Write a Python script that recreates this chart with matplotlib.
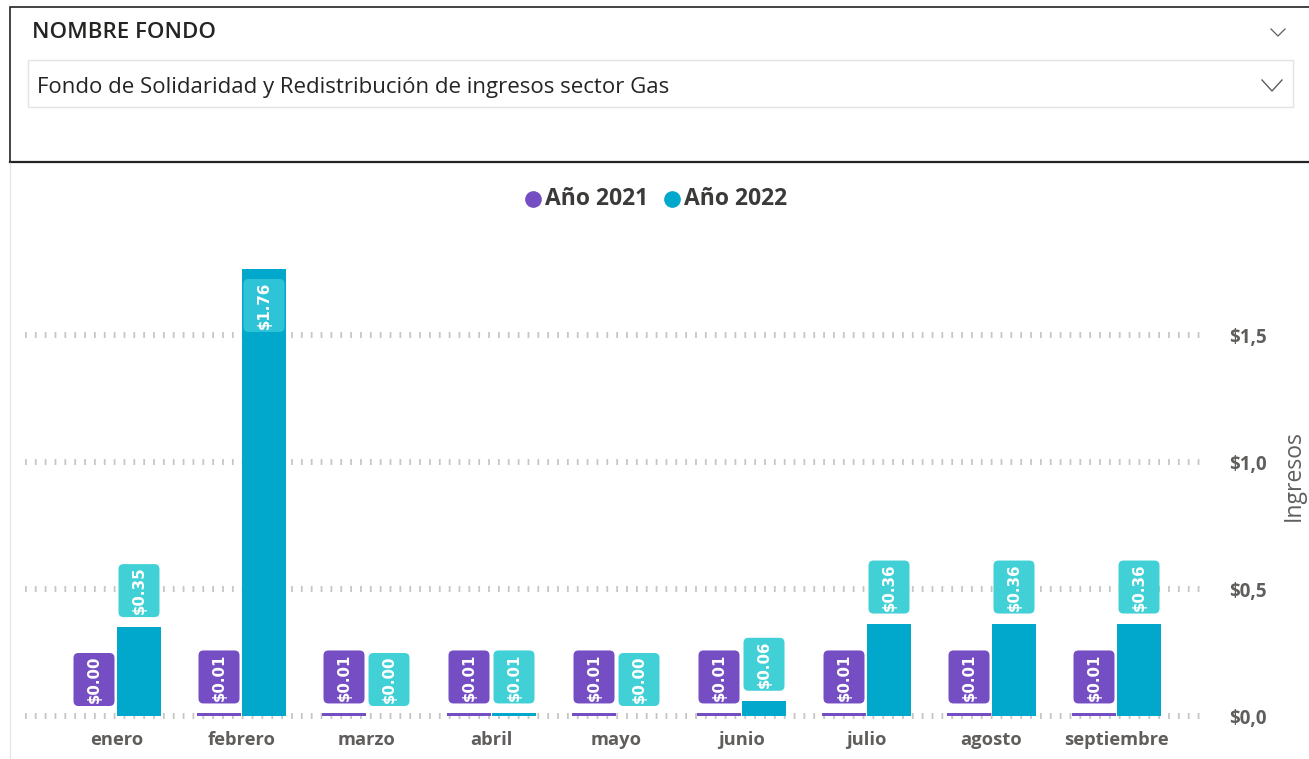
import matplotlib
matplotlib.use("Agg")
import matplotlib.pyplot as plt
from matplotlib.patches import Rectangle, FancyBboxPatch
from matplotlib.lines import Line2D
from matplotlib import font_manager
import numpy as np

# ---------------- data ----------------
months = ["enero", "febrero", "marzo", "abril", "mayo", "junio", "julio", "agosto", "septiembre"]
series_names = ["Año 2021", "Año 2022"]
values_2021 = [0.00, 0.01, 0.01, 0.01, 0.01, 0.01, 0.01, 0.01, 0.01]
values_2022 = [0.35, 1.76, 0.00, 0.01, 0.00, 0.06, 0.364, 0.364, 0.364]
y_ticks = [0.0, 0.5, 1.0, 1.5]
filter_title = "NOMBRE FONDO"
filter_value = "Fondo de Solidaridad y Redistribución de ingresos sector Gas"
y_title = "Ingresos"

# ---------------- style ----------------
W, H = 1309, 759
C21 = "#744EC2"
C22 = "#01A8CC"
C22_LABEL = "#42D0D7"
C22_LABEL_IN = "#2EC3D6"
GRAY_TXT = "#605E5C"
FONT = "Open Sans"

_names = {f.name for f in font_manager.fontManager.ttflist}
if "Liberation Sans Narrow" in _names:
    LABEL_FONT, LABEL_SIZE = "Liberation Sans Narrow", 13
else:
    LABEL_FONT, LABEL_SIZE = "DejaVu Sans", 10.8

fig = plt.figure(figsize=(W / 100, H / 100), dpi=100)
fig.patch.set_facecolor("white")

def fx(px):
    return px / W

def fy(py):
    return 1 - py / H

# ---- top slicer panel ----
fig.patches.append(Rectangle((fx(10), fy(162)), fx(1320 - 10), fy(7) - fy(162),
                             transform=fig.transFigure, fill=False,
                             edgecolor="#252423", linewidth=1.2, zorder=1))
fig.add_artist(Line2D([fx(10), 1.0], [fy(162), fy(162)], transform=fig.transFigure,
                      color="#252423", linewidth=1.6))
fig.patches.append(Rectangle((fx(28), fy(107)), fx(1293 - 28), fy(60) - fy(107),
                             transform=fig.transFigure, facecolor="white",
                             edgecolor="#E3E3E3", linewidth=1.0, zorder=1))
fig.text(fx(32), fy(33), filter_title, fontsize=16, fontfamily=FONT, fontweight="semibold",
         color="#252423", ha="left", va="center")
fig.text(fx(37), fy(87), filter_value, fontsize=16, fontfamily=FONT,
         color="#252423", ha="left", va="center")
# chevrons
fig.add_artist(Line2D([fx(1271), fx(1278), fx(1285)], [fy(29), fy(36), fy(29)],
                      transform=fig.transFigure, color="#605E5C", linewidth=0.9))
fig.add_artist(Line2D([fx(1262), fx(1272), fx(1282)], [fy(80), fy(91), fy(80)],
                      transform=fig.transFigure, color="#605E5C", linewidth=1.0))
# chart visual left border
fig.add_artist(Line2D([fx(10), fx(10)], [fy(163), 0], transform=fig.transFigure,
                      color="#E6E6E6", linewidth=1.0))

# ---- chart axes ----
px_per_unit = 254.0
y0_px = 716
ymin, ymax = -0.02, 1.92
ax_bottom_px = y0_px - ymin * px_per_unit
ax_top_px = y0_px - ymax * px_per_unit
ax_left_px, ax_right_px = 25, 1200
ax = fig.add_axes([fx(ax_left_px), fy(ax_bottom_px), fx(ax_right_px - ax_left_px),
                   fy(ax_top_px) - fy(ax_bottom_px)])
cat_px0, cat_step = 116.5, 125.0
ax.set_xlim((ax_left_px - cat_px0) / cat_step, (ax_right_px - cat_px0) / cat_step)
ax.set_ylim(ymin, ymax)

x = np.arange(len(months))
bw = 0.355
off = 0.18
ax.bar(x - off, values_2021, width=bw, color=C21, zorder=3)
ax.bar(x + off, values_2022, width=bw, color=C22, zorder=3)

for s in ax.spines.values():
    s.set_visible(False)
ax.set_yticks(y_ticks)
ax.set_yticklabels([("$%.1f" % v).replace(".", ",") for v in y_ticks],
                   fontfamily=FONT, fontweight="bold", fontsize=13.5, color=GRAY_TXT)
ax.yaxis.tick_right()
ax.tick_params(axis="y", length=0, pad=21)
ax.set_xticks(x)
ax.set_xticklabels(months, fontfamily=FONT, fontweight="bold", fontsize=13.2, color=GRAY_TXT)
ax.tick_params(axis="x", length=0, pad=7)
ax.grid(axis="y", color="#C8C6C4", linewidth=4.3, linestyle=(0, (0.3, 1.35)))
ax.set_axisbelow(True)

# data labels
box_w = 41 / cat_step
box_h = 53 / px_per_unit
gap = 10 / px_per_unit
r = 5 / cat_step
aspect = cat_step / px_per_unit
for vals, sign, col in [(values_2021, -1, C21), (values_2022, 1, C22_LABEL)]:
    for i, v in enumerate(vals):
        cx = x[i] + sign * off
        if v > 0.5:
            bottom = v - gap - box_h
            fc = C22_LABEL_IN
        else:
            bottom = v + gap
            fc = col
        p = FancyBboxPatch((cx - box_w / 2, bottom), box_w, box_h,
                           boxstyle="round,pad=0,rounding_size=%f" % r,
                           mutation_aspect=aspect, facecolor=fc, edgecolor="none", zorder=4)
        ax.add_patch(p)
        ax.text(cx, bottom + box_h / 2, "$%.2f" % v, rotation=90, ha="center", va="center",
                color="white", fontsize=LABEL_SIZE, fontweight="bold", fontfamily=LABEL_FONT,
                zorder=5)

# y title
fig.text(fx(1294), fy(476), y_title, rotation=90, fontsize=16.5, fontfamily=FONT,
         color=GRAY_TXT, ha="center", va="center")

# legend (drawn manually)
leg_marker_px = [533, 672]
for name, c, mx in zip(series_names, (C21, C22), leg_marker_px):
    fig.add_artist(Line2D([fx(mx)], [fy(199)], transform=fig.transFigure, marker="o",
                          markersize=11, color=c, linestyle="none"))
    fig.text(fx(mx + 12), fy(199), name, fontfamily=FONT, fontweight="bold", fontsize=16.5,
             color="#3B3A39", ha="left", va="center")

fig.savefig("out.png", dpi=100)
